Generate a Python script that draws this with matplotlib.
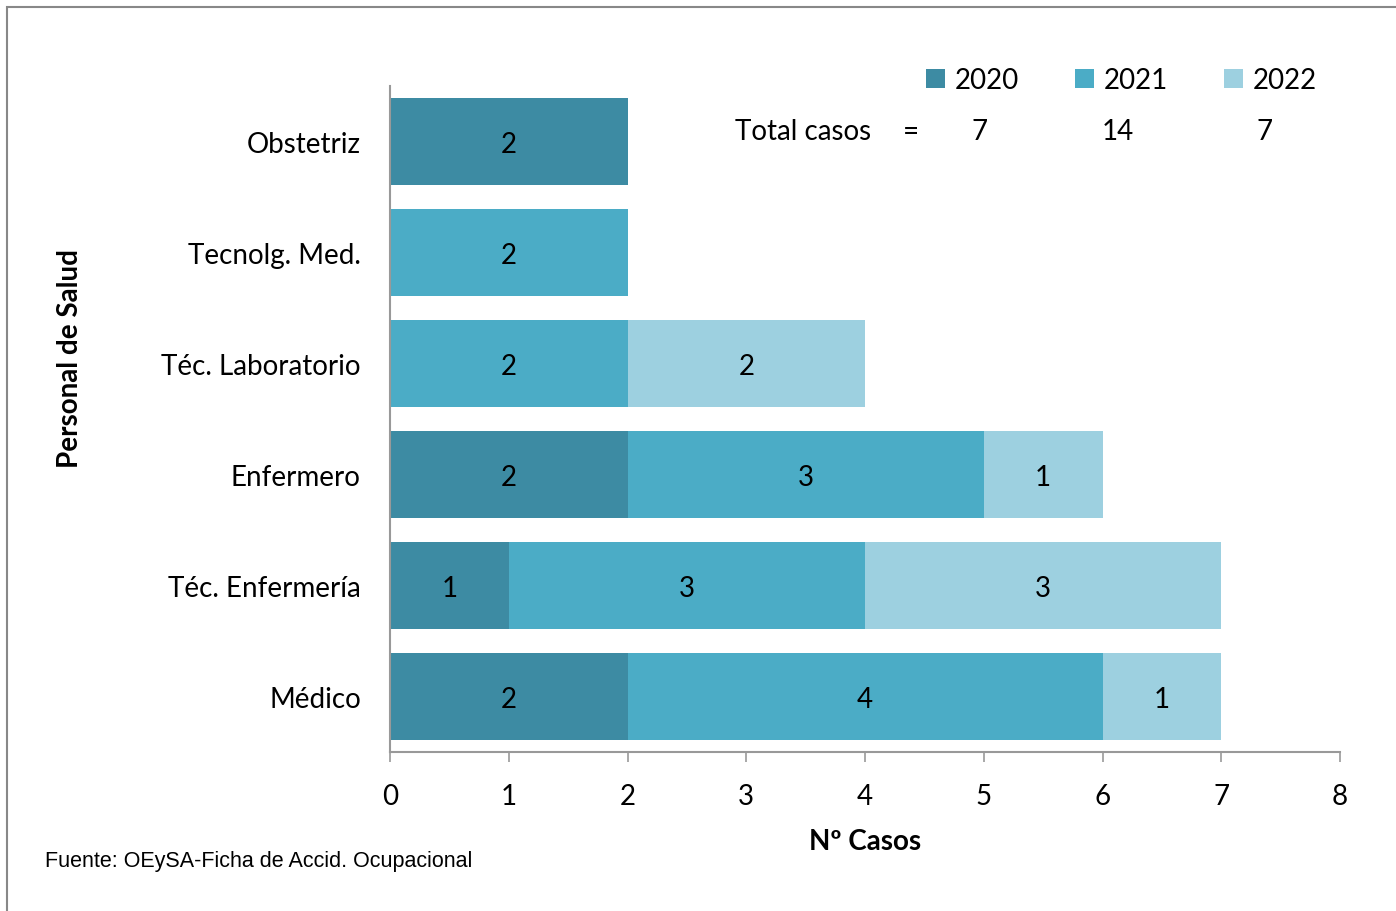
import matplotlib
matplotlib.use("Agg")
import matplotlib.pyplot as plt
from matplotlib.patches import Rectangle
import numpy as np

categories = ["Médico", "Téc. Enfermería", "Enfermero", "Téc. Laboratorio", "Tecnolg. Med.", "Obstetriz"]
years = ["2020", "2021", "2022"]
v2020 = [2, 1, 2, 0, 0, 2]
v2021 = [4, 3, 3, 2, 2, 0]
v2022 = [1, 3, 1, 2, 0, 0]
colors = ["#3D8BA3", "#4BACC6", "#9DD0E0"]
xticks = [0, 1, 2, 3, 4, 5, 6, 7, 8]

FONT = "Lato"
plt.rcParams['font.family'] = [FONT, 'DejaVu Sans']
FS = 20

fig = plt.figure(figsize=(13.96, 9.12), dpi=100)
ax = fig.add_axes([390/1396, 1-753/912, 950/1396, 666/912])

y = np.arange(len(categories))
left = np.zeros(len(categories))
for vals, col, yr in zip([v2020, v2021, v2022], colors, years):
    bars = ax.barh(y, vals, left=left, height=0.78, color=col, label=yr)
    labels = [str(v) if v > 0 else "" for v in vals]
    texts = ax.bar_label(bars, labels=labels, label_type="center", fontsize=FS, color="black")
    for t in texts:
        t.set_verticalalignment("center_baseline")
    left = left + np.array(vals)

ax.set_xlim(0, 8)
ax.set_ylim(-0.5, 5.5)
ax.set_xticks(xticks)
ax.set_yticks(y)
ax.set_yticklabels(categories)
ax.tick_params(axis='y', length=0, pad=21, labelsize=FS)
ax.tick_params(axis='x', length=7, width=1.2, color="#999999", pad=15, labelsize=FS)
for s in ["top", "right"]:
    ax.spines[s].set_visible(False)
for s in ["left", "bottom"]:
    ax.spines[s].set_color("#999999")
    ax.spines[s].set_linewidth(1.5)

ax.set_xlabel("Nº Casos", fontsize=FS, fontweight="bold", labelpad=14)
fig.text(70/1396, 1-358/912, "Personal de Salud", rotation=90, fontsize=FS,
         fontweight="bold", ha="center", va="center")

leg = ax.legend(ncol=3, loc="upper left", bbox_to_anchor=(926/1396, 1-68/912),
                bbox_transform=fig.transFigure, frameon=False, fontsize=FS,
                handlelength=0.7, handleheight=0.7, handletextpad=0.35,
                columnspacing=2.0, borderaxespad=0, borderpad=0)

totals = [sum(v2020), sum(v2021), sum(v2022)]
fig.text(735/1396, 1-132/912, "Total casos", fontsize=FS, ha="left", va="center")
fig.text(911/1396, 1-132/912, "=", fontsize=FS, ha="center", va="center")
for xp, t in zip([980, 1118, 1265], totals):
    fig.text(xp/1396, 1-132/912, str(t), fontsize=FS, ha="center", va="center")

fig.text(45/1396, 1-862/912, "Fuente: OEySA-Ficha de Accid. Ocupacional", fontsize=15.5,
         family="Liberation Sans", ha="left", va="center")

fig.patches.append(Rectangle((7/1396, -0.1), 1.2, 1 - 8/912 + 0.1, transform=fig.transFigure,
                             fill=False, edgecolor="#888888", linewidth=1.5))

fig.savefig("out.png", dpi=100)
